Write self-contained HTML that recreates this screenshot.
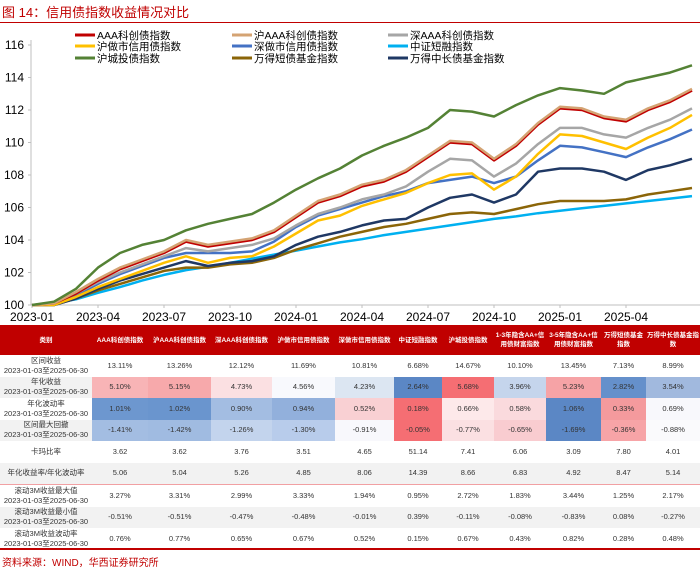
<!DOCTYPE html>
<html><head><meta charset="utf-8">
<style>
body{margin:0;width:700px;height:569px;background:#fff;overflow:hidden;position:relative;font-family:"Liberation Sans","Noto Sans CJK SC",sans-serif;}
#title{position:absolute;left:2px;top:2px;font-size:13px;color:#c00000;}
#title-rule{position:absolute;left:0;top:22px;width:700px;height:1px;background:#c00000;}
#chart{position:absolute;left:0;top:0;}
table{position:absolute;left:0;top:325px;border-collapse:collapse;table-layout:fixed;width:700px;font-size:7.5px;color:#333;}
td,th{padding:0;text-align:center;line-height:10px;overflow:hidden;}
th{background:#c00000;color:#fff;height:30px;font-size:6.5px;line-height:9px;font-weight:bold;}
tr.g td{background:#f2f2f2;}
tr.r td{height:21.5px;}
tr.sep td{border-top:1px solid #f1a0a3;}
#tbl-bottom{position:absolute;left:0;top:548px;width:700px;height:2px;background:#c00000;}
#source{position:absolute;left:2px;top:554px;font-size:10px;color:#c00000;}
</style></head><body>
<div id="title">图 14：信用债指数收益情况对比</div>
<div id="title-rule"></div>
<svg id="chart" width="700" height="325"></svg>

<table>
<colgroup><col style="width:92px"><col style="width:56px"><col style="width:63px"><col style="width:61px"><col style="width:63px"><col style="width:59px"><col style="width:48px"><col style="width:52px"><col style="width:52px"><col style="width:55px"><col style="width:45px"><col style="width:54px"></colgroup>
<tr><th>类别</th><th>AAA科创债指数</th><th>沪AAA科创债指数</th><th>深AAA科创债指数</th><th>沪做市信用债指数</th><th>深做市信用债指数</th><th>中证短融指数</th><th>沪城投债指数</th><th>1-3年隐含AA+信用债财富指数</th><th>3-5年隐含AA+信用债财富指数</th><th>万得短债基金指数</th><th>万得中长债基金指数</th></tr>
<tr class="r"><td>区间收益<br>2023-01-03至2025-06-30</td><td>13.11%</td><td>13.26%</td><td>12.12%</td><td>11.69%</td><td>10.81%</td><td>6.68%</td><td>14.67%</td><td>10.10%</td><td>13.45%</td><td>7.13%</td><td>8.99%</td></tr>
<tr class="r g"><td>年化收益<br>2023-01-03至2025-06-30</td><td style="background:#f8b4b6">5.10%</td><td style="background:#f7a9ab">5.15%</td><td style="background:#fbe0e2">4.73%</td><td style="background:#f8f9fd">4.56%</td><td style="background:#dce6f2">4.23%</td><td style="background:#5b87c5">2.64%</td><td style="background:#f56e73">5.68%</td><td style="background:#c5d5ec">3.96%</td><td style="background:#f6a3a6">5.23%</td><td style="background:#6590cb">2.82%</td><td style="background:#a1b9de">3.54%</td></tr>
<tr class="r"><td>年化波动率<br>2023-01-03至2025-06-30</td><td style="background:#6d97cf">1.01%</td><td style="background:#6a95ce">1.02%</td><td style="background:#a3bde2">0.90%</td><td style="background:#92b0dc">0.94%</td><td style="background:#f9d0d3">0.52%</td><td style="background:#f56e73">0.18%</td><td style="background:#fde9ea">0.66%</td><td style="background:#fadadd">0.58%</td><td style="background:#5b87c5">1.06%</td><td style="background:#f49a9d">0.33%</td><td style="background:#f8f8fc">0.69%</td></tr>
<tr class="r g"><td>区间最大回撤<br>2023-01-03至2025-06-30</td><td style="background:#a3bde2">-1.41%</td><td style="background:#a0bbe1">-1.42%</td><td style="background:#c3d4ed">-1.26%</td><td style="background:#b8cceb">-1.30%</td><td style="background:#f8f8fc">-0.91%</td><td style="background:#f56e73">-0.05%</td><td style="background:#fbe0e2">-0.77%</td><td style="background:#f9ccd0">-0.65%</td><td style="background:#5b87c5">-1.69%</td><td style="background:#f7a4a7">-0.36%</td><td style="background:#fafafc">-0.88%</td></tr>
<tr class="r"><td>卡玛比率</td><td>3.62</td><td>3.62</td><td>3.76</td><td>3.51</td><td>4.65</td><td>51.14</td><td>7.41</td><td>6.06</td><td>3.09</td><td>7.80</td><td>4.01</td></tr>
<tr class="r g"><td>年化收益率/年化波动率</td><td>5.06</td><td>5.04</td><td>5.26</td><td>4.85</td><td>8.06</td><td>14.39</td><td>8.66</td><td>6.83</td><td>4.92</td><td>8.47</td><td>5.14</td></tr>
<tr class="r sep"><td>滚动3M收益最大值<br>2023-01-03至2025-06-30</td><td>3.27%</td><td>3.31%</td><td>2.99%</td><td>3.33%</td><td>1.94%</td><td>0.95%</td><td>2.72%</td><td>1.83%</td><td>3.44%</td><td>1.25%</td><td>2.17%</td></tr>
<tr class="r g"><td>滚动3M收益最小值<br>2023-01-03至2025-06-30</td><td>-0.51%</td><td>-0.51%</td><td>-0.47%</td><td>-0.48%</td><td>-0.01%</td><td>0.39%</td><td>-0.11%</td><td>-0.08%</td><td>-0.83%</td><td>0.08%</td><td>-0.27%</td></tr>
<tr class="r"><td>滚动3M收益波动率<br>2023-01-03至2025-06-30</td><td>0.76%</td><td>0.77%</td><td>0.65%</td><td>0.67%</td><td>0.52%</td><td>0.15%</td><td>0.67%</td><td>0.43%</td><td>0.82%</td><td>0.28%</td><td>0.48%</td></tr>
</table>
<div id="tbl-bottom"></div>
<div id="source">资料来源：WIND，华西证券研究所</div>

<script>
const seriesNames=["AAA科创债指数","沪AAA科创债指数","深AAA科创债指数","沪做市信用债指数","深做市信用债指数","中证短融指数","沪城投债指数","万得短债基金指数","万得中长债基金指数"];
const seriesColors=["#c00000","#d4a373","#a6a6a6","#ffc000","#4472c4","#00b0f0","#548235","#8b6508","#1f3864"];
const yTicks=[100,102,104,106,108,110,112,114,116];
const xTickLabels=["2023-01","2023-04","2023-07","2023-10","2024-01","2024-04","2024-07","2024-10","2025-01","2025-04"];
const sAAA=[100,100.1,100.7,101.5,102.2,102.7,103.2,103.9,103.6,103.8,104.0,104.5,105.4,106.3,106.7,107.3,107.6,108.2,109.1,110.0,109.9,108.9,109.8,111.1,112.1,112.0,111.5,111.3,112.0,112.5,113.2];
const sHuAAA=[100,100.1,100.8,101.6,102.3,102.8,103.3,104.0,103.7,103.9,104.1,104.6,105.5,106.4,106.8,107.4,107.7,108.3,109.2,110.1,110.0,109.0,109.9,111.2,112.2,112.1,111.6,111.4,112.1,112.6,113.3];
const sShenAAA=[100,100.1,100.7,101.4,102.0,102.5,103.0,103.5,103.3,103.5,103.7,104.1,104.9,105.6,106.0,106.5,106.8,107.3,108.2,109.0,108.9,107.9,108.7,109.9,110.9,110.9,110.5,110.3,110.9,111.4,112.1];
const sHuMM=[100,100.0,100.5,101.1,101.6,102.1,102.6,103.0,102.6,102.9,103.0,103.6,104.4,105.2,105.5,106.1,106.5,106.9,107.5,108.0,108.1,107.1,107.9,109.3,110.5,110.4,110.0,109.6,110.3,110.9,111.7];
const sShenMM=[100,100.1,100.6,101.3,101.9,102.4,102.9,103.2,103.2,103.2,103.3,103.9,104.8,105.5,105.9,106.3,106.7,107.0,107.5,107.7,107.9,107.5,107.9,108.9,109.8,109.7,109.4,109.1,109.7,110.2,110.8];
const sShort=[100,100.1,100.35,100.75,101.1,101.5,101.85,102.15,102.35,102.6,102.85,103.1,103.35,103.6,103.85,104.05,104.3,104.5,104.7,104.9,105.1,105.3,105.45,105.65,105.8,105.95,106.1,106.25,106.4,106.55,106.7];
const sCT=[100,100.2,101.0,102.3,103.2,103.7,104.0,104.6,105.0,105.3,105.6,106.3,107.1,107.8,108.4,109.2,109.8,110.3,110.9,112.0,111.9,111.6,112.3,112.9,113.35,113.2,113.0,113.7,114.0,114.3,114.75];
const sFundS=[100,100.0,100.4,100.9,101.3,101.7,102.1,102.3,102.3,102.5,102.6,102.9,103.4,103.8,104.2,104.5,104.8,105.0,105.3,105.6,105.7,105.6,105.9,106.2,106.4,106.4,106.4,106.5,106.8,107.0,107.2];
const sFundL=[100,100.0,100.4,101.0,101.5,101.9,102.3,102.7,102.4,102.6,102.7,103.0,103.7,104.2,104.5,104.9,105.2,105.3,106.0,106.6,106.8,106.3,106.8,108.2,108.4,108.4,108.2,107.7,108.3,108.6,109.0];
const seriesData=[sAAA,sHuAAA,sShenAAA,sHuMM,sShenMM,sShort,sCT,sFundS,sFundL];
const drawOrder=[5,7,8,4,3,2,0,1,6];

const NS="http://www.w3.org/2000/svg";
const svg=document.getElementById('chart');
const X0=32,MONTH=22,Y0=305,PERU=16.25;
const xs=i=>X0+i*MONTH;
const ys=v=>Y0-(v-100)*PERU;
function mk(tag,attrs){const e=document.createElementNS(NS,tag);for(const k in attrs)e.setAttribute(k,attrs[k]);svg.appendChild(e);return e;}
let ax=mk('line',{x1:X0-1,y1:40,x2:X0-1,y2:Y0,stroke:'#bfbfbf','stroke-width':1});


let bx=mk('line',{x1:X0-1,y1:Y0,x2:700,y2:Y0,stroke:'#bfbfbf','stroke-width':1});


yTicks.forEach(v=>{
  const t=mk('text',{x:24,y:ys(v)+4,'text-anchor':'end','font-size':12,fill:'#000','font-family':'Liberation Sans, sans-serif'});
  t.textContent=v;
  
  
  mk('line',{x1:X0-4,y1:ys(v),x2:X0-1,y2:ys(v),stroke:'#bfbfbf'});
});
xTickLabels.forEach((s,i)=>{
  const t=mk('text',{x:xs(i*3),y:321,'text-anchor':'middle','font-size':12,fill:'#000','font-family':'Liberation Sans, sans-serif'});
  t.textContent=s;
  
  
  mk('line',{x1:xs(i*3),y1:Y0,x2:xs(i*3),y2:Y0+3,stroke:'#bfbfbf'});
});
drawOrder.forEach(k=>{
  const pts=seriesData[k].map((v,i)=>xs(i).toFixed(1)+','+ys(v).toFixed(1)).join(' ');
  const p=mk('polyline',{points:pts,fill:'none',stroke:seriesColors[k],'stroke-width':2.5,'stroke-linejoin':'round'});
  
  
});
const legX=[75,232,388],legY=[35,46,58];
seriesNames.forEach((n,k)=>{
  const cx=legX[k%3],cy=legY[Math.floor(k/3)];
  const l=mk('line',{x1:cx,y1:cy,x2:cx+20,y2:cy,stroke:seriesColors[k],'stroke-width':3});
  
  
  const t=mk('text',{x:cx+22,y:cy+4,'font-size':10.5,fill:'#000','font-family':'Liberation Sans, Noto Sans CJK SC, sans-serif'});
  t.textContent=n;
  
  
});
</script>
</body></html>
